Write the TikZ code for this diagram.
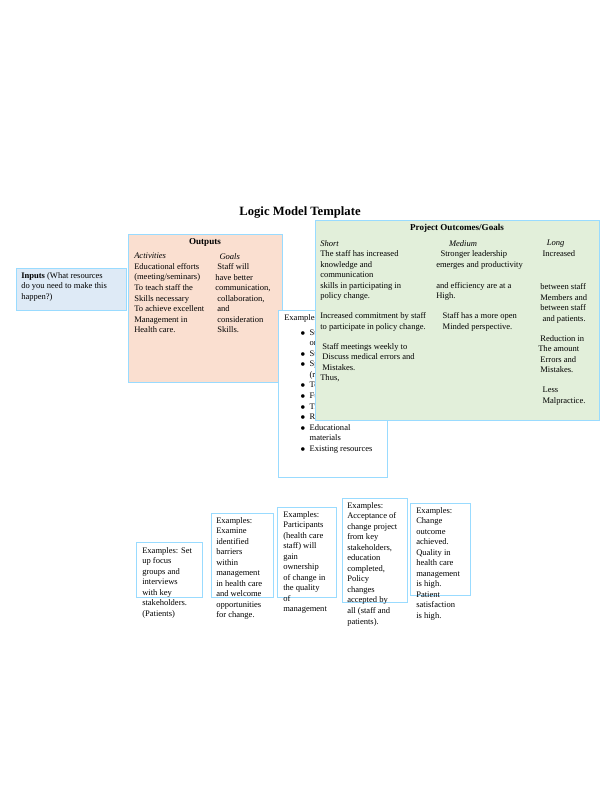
\documentclass[tikz,border=0pt]{standalone}
\usepackage{fontspec}
\setmainfont{Liberation Serif}
\begin{document}
\begin{tikzpicture}[x=0.75pt,y=-0.75pt,
  bx/.style={draw=blue!35!cyan!40!white,line width=0.6pt},
  tx/.style={anchor=north west,inner sep=0,align=left,font=\fontsize{6.4}{7.9}\selectfont},
  hd/.style={anchor=north,inner sep=0,font=\fontsize{6.8}{8}\selectfont\bfseries}]
\definecolor{peach}{HTML}{FADFD0}
\definecolor{lgreen}{HTML}{E2EFDA}
\definecolor{lblue}{HTML}{DEEAF6}
\useasboundingbox (0,0) rectangle (600,800);
\node[anchor=center,inner sep=0,font=\fontsize{9.5}{11}\selectfont\bfseries] (title) at (300,212) {Logic Model Template};
% inputs
\draw[bx,fill=lblue] (16,268) rectangle (126,310);
\node[tx] (inp) at (21,272) {\textbf{Inputs} (What resources\\do you need to make this\\happen?)};
% outputs
\draw[bx,fill=peach] (128,234) rectangle (282,382);
\node[hd] (outh) at (205,238) {Outputs};
\node[tx] (act) at (134,253) {\textit{Activities}\\Educational efforts\\(meeting/seminars)\\To teach staff the\\Skills necessary\\To achieve excellent\\Management in\\Health care.};
\node[tx] (goal) at (215,253) {\ \ \textit{Goals}\\\ Staff will\\have better\\communication,\\\ collaboration,\\\ and\\\ consideration\\\ Skills.};
% examples box
\draw[bx,fill=white] (278,310) rectangle (387,477);
\node[tx] (exh) at (284,314) {Examples:};
\node[tx] (exl) at (300,329) {$\bullet$\ \ Staff time\\\phantom{$\bullet$}\ \ or money\\$\bullet$\ \ Supplies\\$\bullet$\ \ Space\\\phantom{$\bullet$}\ \ (rooms)\\$\bullet$\ \ Technology\\$\bullet$\ \ Funding\\$\bullet$\ \ Training\\$\bullet$\ \ Research\\$\bullet$\ \ Educational\\\phantom{$\bullet$}\ \ materials\\$\bullet$\ \ Existing resources};
% outcomes
\draw[bx,fill=lgreen] (315,220) rectangle (599,420);
\node[hd] (outc) at (457,224) {Project Outcomes/Goals};
\node[tx] (short) at (320,240) {\textit{Short}\\The staff has increased\\knowledge and\\communication\\skills in participating in\\policy change.\\[7pt]Increased commitment by staff\\to participate in policy change.\\[7pt]\ Staff meetings weekly to\\\ Discuss medical errors and\\\ Mistakes.\\Thus,};
\node[tx] (med) at (436,240) {\ \ \ \ \ \ \textit{Medium}\\\ \ Stronger leadership\\emerges and productivity\\[8pt]and efficiency are at a\\High.\\[7pt]\ \ \ Staff has a more open\\\ \ \ Minded perspective.};
\node[tx] (long) at (538,240) {\ \ \ \ \textit{Long}\\\ \ Increased\\[17pt]\ between staff\\\ Members and\\\ between staff\\\ \ and patients.\\[7pt]\ Reduction in\\The amount\\\ Errors and\\\ Mistakes.\\[7pt]\ \ Less\\\ \ Malpractice.};
% bottom boxes
\draw[bx] (136,542) rectangle (202,597);
\node[tx] (b1) at (142,547) {Examples: Set\\up focus\\groups and\\interviews\\with key\\stakeholders.\\(Patients)};
\draw[bx] (211,513) rectangle (273,597);
\node[tx] (b2) at (216,517) {Examples:\\Examine\\identified\\barriers\\within\\management\\in health care\\and welcome\\opportunities\\for change.};
\draw[bx] (277,507) rectangle (336,597);
\node[tx] (b3) at (283,511) {Examples:\\Participants\\(health care\\staff) will\\gain\\ownership\\of change in\\the quality\\of\\management};
\draw[bx] (342,498) rectangle (407,602);
\node[tx] (b4) at (347,502) {Examples:\\Acceptance of\\change project\\from key\\stakeholders,\\education\\completed,\\Policy\\changes\\accepted by\\all (staff and\\patients).};
\draw[bx] (410,503) rectangle (470,595);
\node[tx] (b5) at (416,507) {Examples:\\Change\\outcome\\achieved.\\Quality in\\health care\\management\\is high.\\Patient\\satisfaction\\is high.};
\end{tikzpicture}
\end{document}
